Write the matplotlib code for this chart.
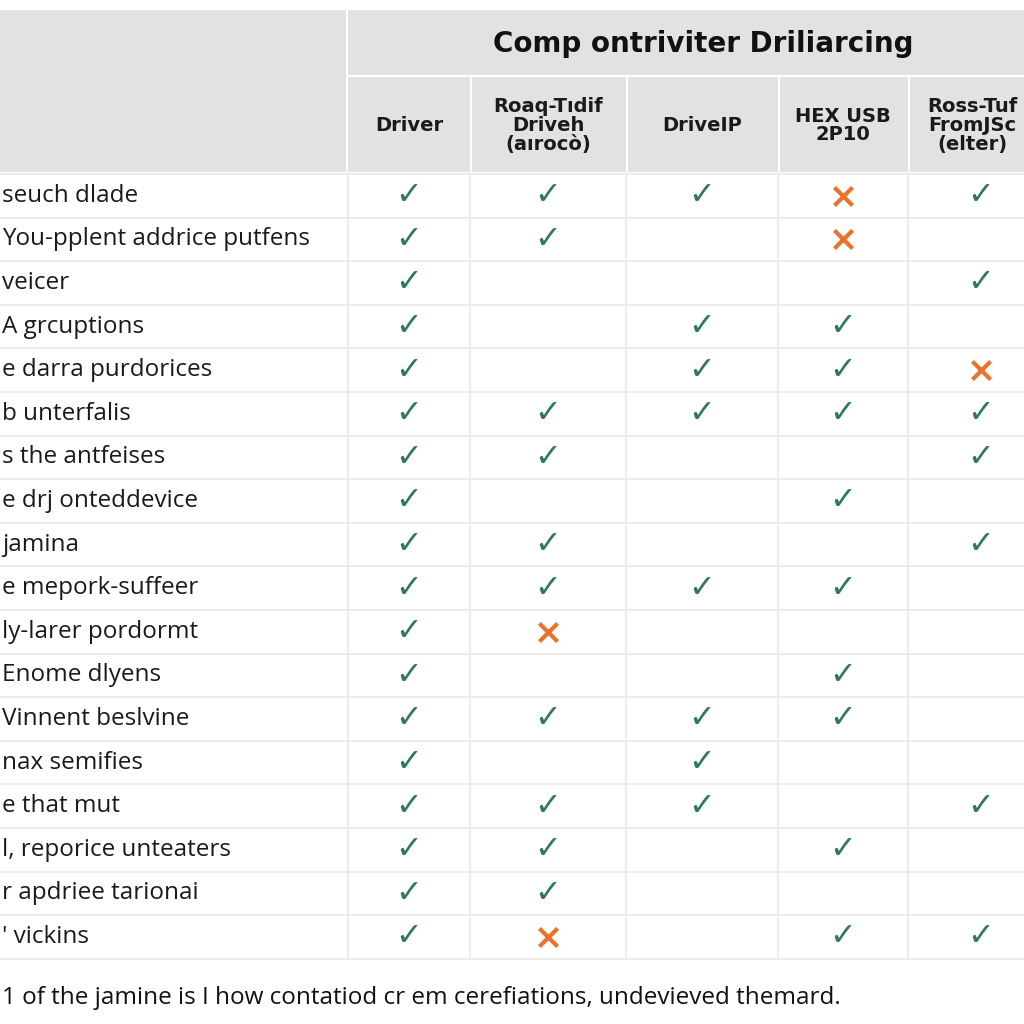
import matplotlib.pyplot as plt
from matplotlib.patches import Rectangle

title = "Comp ontriviter Driliarcing"
columns = ["Driver", "Roaq-Tıdif\nDriveh\n(aırocò)", "DriveIP", "HEX USB\n2P10", "Ross-Tuf\nFromJSc\n(elter)"]
rows = ["seuch dlade", "You-pplent addrice putfens", "veicer", "A grcuptions",
        "e darra purdorices", "b unterfalis", "s the antfeises", "e drj onteddevice",
        "jamina", "e meporк-suffeer".replace("к", "k"), "ly-larer pordormt", "Enome dlyens",
        "Vinnent beslvine", "nax semifies", "e that mut", "l, reporice unteaters",
        "r apdriee tarionai", "' vickins"]
footnote = "1 of the jamine is I how contatiod cr em cerefiations, undevieved themard."

# 1 = supported, 2 = not supported, 0 = blank
marks = [
    [1, 1, 1, 2, 1],
    [1, 1, 0, 2, 0],
    [1, 0, 0, 0, 1],
    [1, 0, 1, 1, 0],
    [1, 0, 1, 1, 2],
    [1, 1, 1, 1, 1],
    [1, 1, 0, 0, 1],
    [1, 0, 0, 1, 0],
    [1, 1, 0, 0, 1],
    [1, 1, 1, 1, 0],
    [1, 2, 0, 0, 0],
    [1, 0, 0, 1, 0],
    [1, 1, 1, 1, 0],
    [1, 0, 1, 0, 0],
    [1, 1, 1, 0, 1],
    [1, 1, 0, 1, 0],
    [1, 1, 0, 0, 0],
    [1, 2, 0, 1, 1],
]

green = "#2f7a55"
orange = "#e8742c"
head_gray = "#e2e2e2"
line_gray = "#e9e9e9"

# layout in pixels
col_edges = [348, 470, 626, 778, 908, 1054]
head_top, title_bot, head_bot = 10, 75, 172
row_top, row_h = 174, 43.6

fig = plt.figure(figsize=(10.24, 10.24), dpi=100)
ax = fig.add_axes([0, 0, 1, 1])
ax.set_xlim(0, 1024)
ax.set_ylim(1024, 0)
ax.axis("off")

# header blocks
ax.add_patch(Rectangle((0, head_top), col_edges[0] - 2, head_bot - head_top, color=head_gray, lw=0))
ax.add_patch(Rectangle((col_edges[0], head_top), 1024 - col_edges[0], title_bot - head_top, color=head_gray, lw=0))
for i in range(len(columns)):
    x0 = col_edges[i] + (0 if i == 0 else 2)
    ax.add_patch(Rectangle((x0, title_bot + 2), col_edges[i + 1] - x0, head_bot - title_bot - 2,
                           color=head_gray, lw=0))

ax.text((col_edges[0] + 1058) / 2, (head_top + title_bot) / 2 + 2, title, ha="center", va="center",
        fontsize=20, fontweight="bold", color="#111111")
for i, c in enumerate(columns):
    xc = (col_edges[i] + col_edges[i + 1]) / 2
    if i == len(columns) - 1:
        xc = 972
    ax.text(xc, (title_bot + head_bot) / 2 + 2, c, ha="center", va="center", fontsize=14,
            fontweight="bold", color="#1a1a1a", linespacing=1.0)

# body grid
n = len(rows)
for r in range(n + 1):
    y = row_top + r * row_h
    ax.plot([0, 1024], [y, y], color=line_gray, lw=1.2)
for x in col_edges[:-1]:
    ax.plot([x, x], [row_top, row_top + n * row_h], color=line_gray, lw=1.2)

for r, label in enumerate(rows):
    yc = row_top + (r + 0.5) * row_h
    ax.text(2, yc, label, ha="left", va="center", fontsize=17.5, color="#1a1a1a", family="Open Sans")
    for c, m in enumerate(marks[r]):
        xc = (col_edges[c] + col_edges[c + 1]) / 2
        if c == len(columns) - 1:
            xc = 981
        if m == 1:
            ax.text(xc, yc, "\u2713", ha="center", va="center", fontsize=23, color=green)
        elif m == 2:
            ax.scatter([xc], [yc], marker="x", s=170, color=orange, linewidths=3.0)

ax.text(2, 998, footnote, ha="left", va="center", fontsize=17.5, color="#111111",
        family="Open Sans", stretch="semi-condensed")

fig.savefig("out.png", dpi=100)
